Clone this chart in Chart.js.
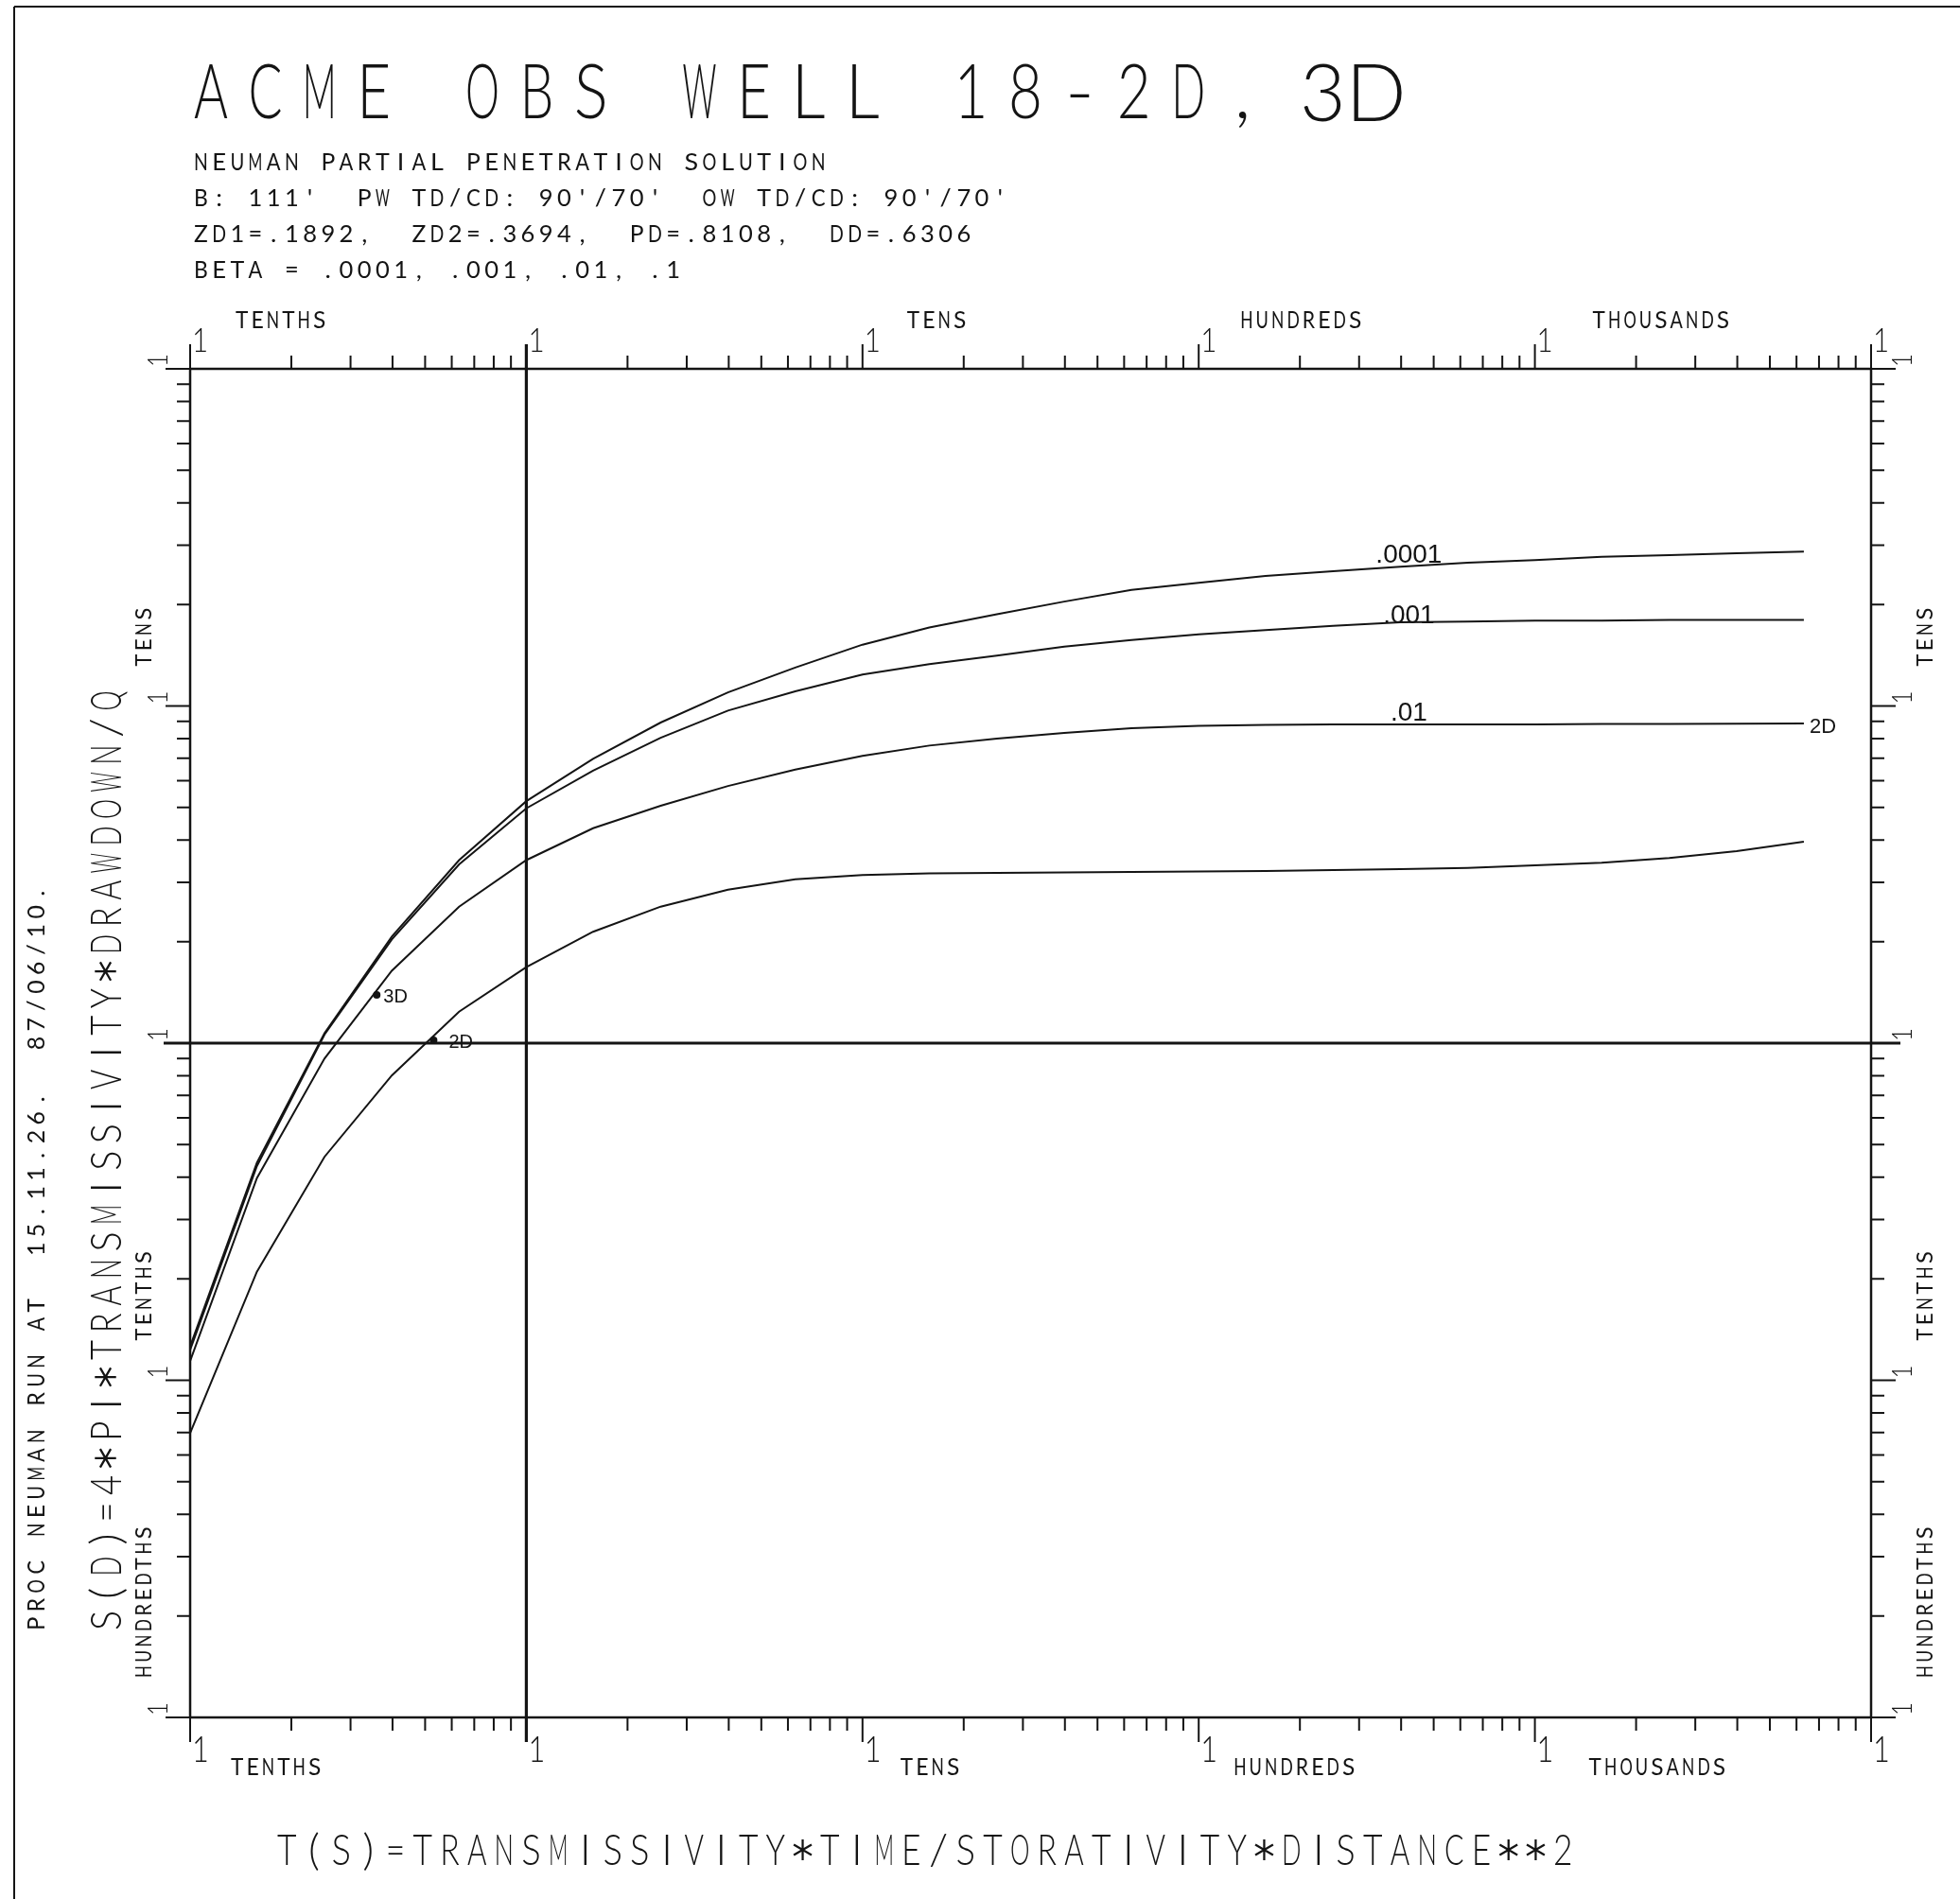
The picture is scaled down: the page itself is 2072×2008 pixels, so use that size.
<!DOCTYPE html>
<html>
<head>
<meta charset="utf-8">
<title>ACME OBS WELL 18-2D,3D</title>
<script src="https://cdn.jsdelivr.net/npm/chart.js@4.4.1/dist/chart.umd.min.js"></script>
<style>
  html, body { margin: 0; padding: 0; background: #fff; }
  canvas { display: block; }
</style>
</head>
<body>
<canvas id="neumanchart" width="2072" height="2008"></canvas>
<script>
// dimensionless time T(S), a point every fifth of a decade
var tValues = [0.1, 0.158, 0.251, 0.398, 0.631, 1, 1.58, 2.51, 3.98, 6.31,
               10, 15.8, 25.1, 39.8, 63.1, 100, 158, 251, 398, 631,
               1000, 1580, 2510, 3980, 6310];

// dimensionless drawdown S(D), one type curve per beta
var sBeta0001 = [0.126, 0.442, 1.07, 2.07, 3.49, 5.22, 6.97, 8.93, 10.97, 13.0,
                 15.2, 17.1, 18.7, 20.4, 22.1, 23.2, 24.3, 25.1, 25.9, 26.6,
                 27.1, 27.7, 28.0, 28.4, 28.7];
var sBeta001 = [0.123, 0.432, 1.06, 2.03, 3.39, 4.97, 6.43, 8.05, 9.69, 11.05,
                12.4, 13.3, 14.1, 15.0, 15.7, 16.3, 16.8, 17.3, 17.7, 17.8,
                17.9, 17.9, 18.0, 18.0, 18.0];
var sBeta01 = [0.114, 0.398, 0.90, 1.64, 2.54, 3.49, 4.34, 5.06, 5.79, 6.48,
               7.11, 7.63, 8.00, 8.32, 8.59, 8.73, 8.79, 8.82, 8.82, 8.82,
               8.82, 8.84, 8.85, 8.86, 8.87];
var sBeta1 = [0.0697, 0.210, 0.460, 0.802, 1.24, 1.68, 2.14, 2.54, 2.85, 3.06,
              3.15, 3.19, 3.20, 3.21, 3.22, 3.23, 3.24, 3.26, 3.28, 3.31,
              3.37, 3.43, 3.54, 3.71, 3.96];
var betaLabels = [".0001", ".001", ".01", ".1"];

// matched observation points
var wellNames = ["3D", "2D"];
var wellT = [0.359, 0.530];
var wellS = [1.39, 1.02];

// log cycles and their names
var xDecades = [0.1, 1, 10, 100, 1000, 10000];
var yDecades = [0.01, 0.1, 1, 10, 100];
var xCycleNames = ["TENTHS", "", "TENS", "HUNDREDS", "THOUSANDS"];
var yCycleNames = ["HUNDREDTHS", "TENTHS", "", "TENS"];

var INK = "#141414";
var PEN_FONT = "Lato";
var HAND_FONT = "'Liberation Sans'";

function toPoints(ys) {
    var pts = [];
    for (var i = 0; i < tValues.length; i++) pts.push({x: tValues[i], y: ys[i]});
    return pts;
}

// plotter asterisk: three strokes crossing at half cap height
function penStar(ctx, cx, cap) {
    var r = cap * 0.34, cy = -cap * 0.5;
    ctx.save();
    ctx.strokeStyle = INK;
    ctx.lineWidth = Math.max(1.6, cap * 0.07);
    ctx.beginPath();
    for (var k = 0; k < 3; k++) {
        var ang = Math.PI / 2 + k * Math.PI / 3;
        ctx.moveTo(cx - r * Math.cos(ang), cy - r * Math.sin(ang));
        ctx.lineTo(cx + r * Math.cos(ang), cy + r * Math.sin(ang));
    }
    ctx.stroke();
    ctx.restore();
}

// plotter lettering: fixed pitch, every glyph squeezed into the same cell
function penText(ctx, str, x, y, cap, pitch, rot, weight, wide) {
    var size = cap / 0.72;
    var gw = cap * (wide || 0.66);
    ctx.save();
    ctx.translate(x, y);
    if (rot) ctx.rotate(rot);
    ctx.font = (weight || 300) + " " + size.toFixed(1) + "px " + PEN_FONT;
    ctx.textAlign = "center";
    ctx.textBaseline = "alphabetic";
    ctx.fillStyle = INK;
    for (var i = 0; i < str.length; i++) {
        var ch = str[i];
        if (ch === " ") continue;
        if (ch === "*") {
            penStar(ctx, i * pitch + gw / 2, cap);
            continue;
        }
        var w = ctx.measureText(ch).width;
        var sx = Math.min(1.05, gw / w);
        ctx.save();
        ctx.translate(i * pitch + gw / 2, 0);
        ctx.scale(sx, 1);
        ctx.fillText(ch, 0, 0);
        ctx.restore();
    }
    ctx.restore();
}

function handText(ctx, str, x, y, font, align) {
    ctx.save();
    ctx.font = font;
    ctx.textAlign = align || "left";
    ctx.textBaseline = "alphabetic";
    ctx.fillStyle = INK;
    ctx.fillText(str, x, y);
    ctx.restore();
}

function seg(ctx, x1, y1, x2, y2) {
    ctx.moveTo(x1, y1);
    ctx.lineTo(x2, y2);
}

var plotterFrame = {
    id: "plotterFrame",
    afterDraw: function(chart) {
        var ctx = chart.ctx;
        var xs = chart.scales.x, ys = chart.scales.y;
        var a = chart.chartArea;
        var UP = -Math.PI / 2;
        var minor = 14, major = 26;

        ctx.save();
        ctx.strokeStyle = INK;
        ctx.lineCap = "butt";

        // sheet border
        ctx.lineWidth = 2;
        ctx.beginPath();
        seg(ctx, 15, 2008, 15, 7);
        seg(ctx, 15, 7, 2072, 7);
        ctx.stroke();

        // plot box
        ctx.lineWidth = 2.5;
        ctx.strokeRect(a.left, a.top, a.right - a.left, a.bottom - a.top);

        // tick marks on all four sides
        ctx.lineWidth = 2;
        ctx.beginPath();
        xDecades.forEach(function(d, i) {
            var px = xs.getPixelForValue(d);
            seg(ctx, px, a.top, px, a.top - major);
            seg(ctx, px, a.bottom, px, a.bottom + major);
            if (i < xDecades.length - 1) {
                for (var m = 2; m <= 9; m++) {
                    var p = xs.getPixelForValue(m * d);
                    seg(ctx, p, a.top, p, a.top - minor);
                    seg(ctx, p, a.bottom, p, a.bottom + minor);
                }
            }
        });
        yDecades.forEach(function(d, i) {
            var py = ys.getPixelForValue(d);
            seg(ctx, a.left, py, a.left - major, py);
            seg(ctx, a.right, py, a.right + major, py);
            if (i < yDecades.length - 1) {
                for (var m = 2; m <= 9; m++) {
                    var p = ys.getPixelForValue(m * d);
                    seg(ctx, a.left, p, a.left - minor, p);
                    seg(ctx, a.right, p, a.right + minor, p);
                }
            }
        });
        ctx.stroke();

        // heavy unit lines, S=1 and T=1
        var x1 = xs.getPixelForValue(1), y1 = ys.getPixelForValue(1);
        ctx.lineWidth = 3.2;
        ctx.beginPath();
        seg(ctx, x1, a.top - major, x1, a.bottom + major);
        seg(ctx, a.left - 28, y1, a.right + 31, y1);
        ctx.stroke();

        // cycle "1" marks
        xDecades.forEach(function(d) {
            var px = xs.getPixelForValue(d);
            penText(ctx, "1", px + 2, a.top - 18, 26, 10, 0, 300);
            penText(ctx, "1", px + 2, a.bottom + 47, 27, 10, 0, 300);
        });
        yDecades.forEach(function(d) {
            var py = ys.getPixelForValue(d);
            penText(ctx, "1", a.left - 24, py - 2, 21, 10, UP, 300);
            penText(ctx, "1", a.right + 43, py - 2, 21, 10, UP, 300);
        });

        // cycle names
        var topOff = [48, 0, 47, 44, 61], botOff = [43, 0, 40, 37, 57];
        xCycleNames.forEach(function(name, i) {
            if (!name) return;
            var px = xs.getPixelForValue(xDecades[i]);
            penText(ctx, name, px + topOff[i], a.top - 43, 18, 16.4, 0, 400, 0.74);
            penText(ctx, name, px + botOff[i], a.bottom + 61, 18, 16.4, 0, 400, 0.74);
        });
        yCycleNames.forEach(function(name, i) {
            if (!name) return;
            var py = ys.getPixelForValue(yDecades[i]);
            penText(ctx, name, a.left - 41, py - 42, 17, 16.3, UP, 400, 0.76);
            penText(ctx, name, a.right + 65, py - 42, 17, 16.3, UP, 400, 0.76);
        });

        // titles
        penText(ctx, "ACME OBS WELL 18-2D,", 205, 125, 58, 57.4, 0, 300, 0.62);
        handText(ctx, "3D", 1374, 128, "300 84px Lato");
        var sub = 0.8;
        penText(ctx, "NEUMAN PARTIAL PENETRATION SOLUTION", 205, 180, 18.5, 19.2, 0, 400, sub);
        penText(ctx, "B: 111'  PW TD/CD: 90'/70'  OW TD/CD: 90'/70'", 205, 218, 18.5, 19.2, 0, 400, sub);
        penText(ctx, "ZD1=.1892,  ZD2=.3694,  PD=.8108,  DD=.6306", 205, 256, 18.5, 19.2, 0, 400, sub);
        penText(ctx, "BETA = " + betaLabels.join(", "), 205, 294, 18.5, 19.2, 0, 400, sub);

        penText(ctx, "T(S)=TRANSMISSIVITY*TIME/STORATIVITY*DISTANCE**2", 293, 1972, 32, 28.7, 0, 300, 0.64);
        penText(ctx, "S(D)=4*PI*TRANSMISSIVITY*DRAWDOWN/Q", 128, 1724, 33, 28.6, UP, 300, 0.64);
        penText(ctx, "PROC NEUMAN RUN AT  15.11.26.  87/06/10.", 47, 1724, 18, 19.8, UP, 400, sub);

        // hand-written beta labels near the right end of the curves
        var curves = [sBeta0001, sBeta001, sBeta01];
        var lift = [4, -1, 4];
        curves.forEach(function(c, i) {
            var k = 18;
            var px = xs.getPixelForValue(tValues[k]) + 9;
            var py = ys.getPixelForValue(c[k]) - lift[i];
            handText(ctx, betaLabels[i], px, py, "28px " + HAND_FONT, "center");
        });
        var last = tValues.length - 1;
        handText(ctx, "2D", xs.getPixelForValue(tValues[last]) + 6,
                 ys.getPixelForValue(sBeta01[last]) + 10, "22px " + HAND_FONT);

        // observation point names
        wellNames.forEach(function(n, i) {
            var px = xs.getPixelForValue(wellT[i]);
            var py = ys.getPixelForValue(wellS[i]);
            handText(ctx, n, px + (i === 0 ? 7 : 16), py + 8, "20px " + HAND_FONT);
        });

        ctx.restore();
    }
};

var curveStyle = {
    borderColor: INK,
    borderWidth: 2,
    pointRadius: 0,
    tension: 0,
    fill: false
};

var datasets = [sBeta0001, sBeta001, sBeta01, sBeta1].map(function(s, i) {
    return Object.assign({label: betaLabels[i], data: toPoints(s)}, curveStyle);
});
datasets.push({
    label: "wells",
    data: wellT.map(function(t, i) { return {x: t, y: wellS[i]}; }),
    showLine: false,
    pointRadius: 4,
    pointBackgroundColor: INK,
    pointBorderColor: INK,
    pointBorderWidth: 0
});

new Chart(document.getElementById("neumanchart").getContext("2d"), {
    type: "line",
    data: {datasets: datasets},
    options: {
        responsive: false,
        animation: false,
        devicePixelRatio: 1,
        layout: {padding: {left: 201, top: 390, right: 94, bottom: 192}},
        plugins: {
            legend: {display: false},
            tooltip: {enabled: false}
        },
        scales: {
            x: {type: "logarithmic", min: 0.1, max: 10000, display: false},
            y: {type: "logarithmic", min: 0.01, max: 100, display: false}
        }
    },
    plugins: [plotterFrame]
});
</script>
</body>
</html>
